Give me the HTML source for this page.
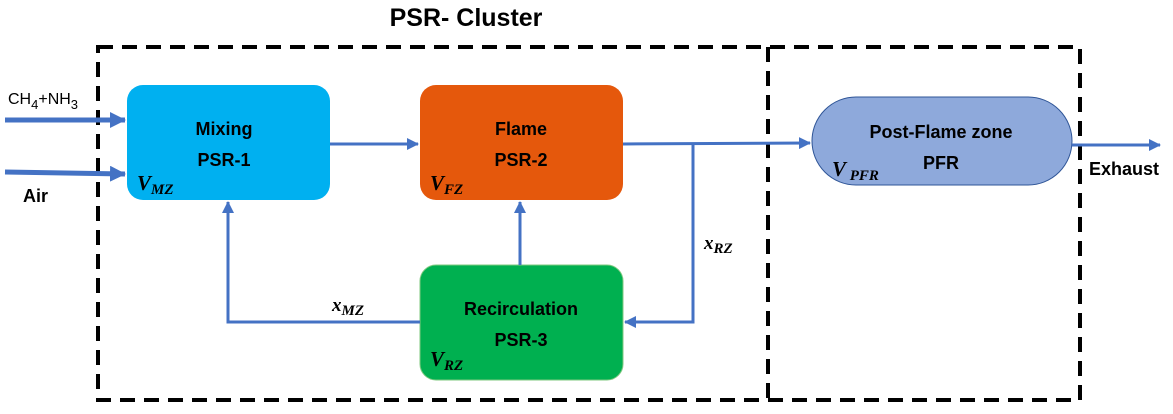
<!DOCTYPE html>
<html><head><style>
body{margin:0;width:1173px;height:409px;background:#fff;overflow:hidden;font-family:"Liberation Sans",sans-serif}
</style></head><body>
<svg width="1173" height="409" xmlns="http://www.w3.org/2000/svg">
<defs>
<marker id="a" markerWidth="12" markerHeight="12" refX="11" refY="6" orient="auto" markerUnits="userSpaceOnUse"><path d="M0,0 L12,6 L0,12 z" fill="#4472C4"/></marker>
<marker id="b" markerWidth="16" markerHeight="16" refX="15" refY="8" orient="auto" markerUnits="userSpaceOnUse"><path d="M0,0 L16,8 L0,16 z" fill="#4472C4"/></marker>
</defs>
<text x="466" y="26" font-size="25" font-weight="bold" text-anchor="middle">PSR- Cluster</text>
<g stroke="#000" stroke-width="4" stroke-dasharray="15,9" fill="none">
<path d="M98,47 H1080 V400 H98 Z"/>
<line x1="768" y1="47" x2="768" y2="400"/>
</g>
<rect x="127" y="85" width="203" height="115" rx="16" fill="#00B0F0"/>
<rect x="420" y="85" width="203" height="115" rx="16" fill="#E5580C"/>
<rect x="420" y="265" width="203" height="115" rx="16" fill="#00B050" stroke="#7FC97F" stroke-width="1"/>
<rect x="812" y="97" width="260" height="88" rx="44" fill="#8EA9DB" stroke="#2F5597" stroke-width="1"/>
<g stroke="#4472C4" fill="none">
<line x1="5" y1="120" x2="125" y2="120" stroke-width="5" marker-end="url(#b)"/>
<line x1="5" y1="172" x2="125" y2="174" stroke-width="5" marker-end="url(#b)"/>
<line x1="330" y1="144" x2="418" y2="144" stroke-width="3" marker-end="url(#a)"/>
<line x1="623" y1="144" x2="810" y2="143" stroke-width="3" marker-end="url(#a)"/>
<polyline points="693,143 693,322 625,322" stroke-width="3" marker-end="url(#a)"/>
<line x1="520" y1="265" x2="520" y2="202" stroke-width="3" marker-end="url(#a)"/>
<polyline points="420,322 228,322 228,202" stroke-width="3" marker-end="url(#a)"/>
<line x1="1072" y1="145" x2="1160" y2="145" stroke-width="3" marker-end="url(#a)"/>
</g>
<g font-size="18" font-weight="bold" text-anchor="middle">
<text x="224" y="135">Mixing</text><text x="224" y="166">PSR-1</text>
<text x="521" y="135">Flame</text><text x="521" y="166">PSR-2</text>
<text x="521" y="315">Recirculation</text><text x="521" y="346">PSR-3</text>
<text x="941" y="138">Post-Flame zone</text><text x="941" y="169">PFR</text>
</g>
<text x="8" y="104" font-size="16">CH<tspan font-size="13" dy="5">4</tspan><tspan dy="-5">+NH</tspan><tspan font-size="13" dy="5">3</tspan></text>
<text x="23" y="202" font-size="18" font-weight="bold">Air</text>
<text x="1089" y="175" font-size="18" font-weight="bold">Exhaust</text>
<g font-family="Liberation Serif,serif" font-style="italic" font-weight="bold">
<text x="137" y="190" font-size="21">V<tspan font-size="15" dy="4">MZ</tspan></text>
<text x="430" y="190" font-size="21">V<tspan font-size="15" dy="4">FZ</tspan></text>
<text x="430" y="366" font-size="21">V<tspan font-size="15" dy="4">RZ</tspan></text>
<text x="832" y="176" font-size="21">V<tspan font-size="15" dy="4"> PFR</tspan></text>
<text x="332" y="311" font-size="19">x<tspan font-size="15" dy="4">MZ</tspan></text>
<text x="704" y="249" font-size="19">x<tspan font-size="15" dy="4">RZ</tspan></text>
</g>
</svg>
</body></html>
